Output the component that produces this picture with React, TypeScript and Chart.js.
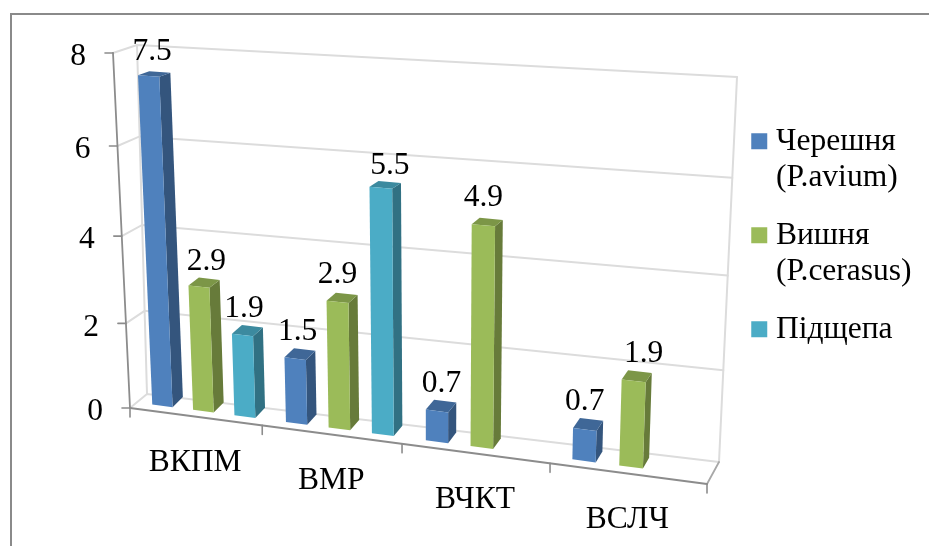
import React, { useEffect, useRef } from "react";
import { Chart, registerables } from "chart.js";

Chart.register(...registerables);

const categories = ["ВКПМ", "ВМР", "ВЧКТ", "ВСЛЧ"];
const seriesLabels = [["Черешня", "(P.avium)"], ["Вишня", "(P.cerasus)"], "Підщепа"];
const avium = [7.5, 1.5, 0.7, 0.7];
const cerasus = [2.9, 2.9, 4.9, 1.9];
const rootstock = [1.9, 5.5, null, null];

const frontColors = ["#4F81BD", "#9BBB59", "#4BACC6"];
const sideColors = ["#34557D", "#677B3A", "#317183"];
const topColors = ["#3F6797", "#7C9647", "#3C8A9F"];

const FONT_SIZE = 31.5;
const FONT = `${FONT_SIZE}px 'Liberation Serif'`;

// Hand placement of each value label relative to the top of its column
const labelNudge = [
  [[3.5, -24], [2.5, -27], [4.5, -27], [0, -27.5]],
  [[7.5, -25], [0, -27], [0, -27], [10, -27.5]],
  [[1.5, -26], [9, -22]],
];

type Pt = [number, number];

// Projective map of the unit square onto a quad (top-left, top-right, bottom-right, bottom-left).
function homography(q: Pt[]) {
  const [[x0, y0], [x1, y1], [x2, y2], [x3, y3]] = q;
  const sx = x0 - x1 + x2 - x3;
  const sy = y0 - y1 + y2 - y3;
  const dx1 = x1 - x2, dx2 = x3 - x2, dy1 = y1 - y2, dy2 = y3 - y2;
  const den = dx1 * dy2 - dx2 * dy1;
  const g = (sx * dy2 - dx2 * sy) / den;
  const h = (dx1 * sy - sx * dy1) / den;
  const a = x1 - x0 + g * x1, b = x3 - x0 + h * x3;
  const d = y1 - y0 + g * y1, e = y3 - y0 + h * y3;
  return (u: number, v: number): Pt => {
    const w = g * u + h * v + 1;
    return [(a * u + b * v + x0) / w, (d * u + e * v + y0) / w];
  };
}

const lerp = (p: Pt, q: Pt, t: number): Pt => [p[0] + (q[0] - p[0]) * t, p[1] + (q[1] - p[1]) * t];
const foreshorten = (t: number, k: number) => (t * k) / (1 + (k - 1) * t);

// Frame of the 3-D box
const wallTL: Pt = [137, 45], wallTR: Pt = [737, 77], wallBR: Pt = [719, 462], wallBL: Pt = [147, 394];
const edgeTop: Pt = [113, 53], edgeBottom: Pt = [130, 408], floorEnd: Pt = [707, 484];

// Planes holding the front and the rear faces of the columns
const frontPlane = homography([[121.6, 50.9], [724.5, 93.6], [708.4, 477.1], [137.6, 402.6]]);
const rearPlane = homography([[133, 47.4], [729.5, 90.5], [713.9, 466.1], [148.1, 392.6]]);

const V_K = 1.065;
const U_K = 0.892;

function polygon(ctx: CanvasRenderingContext2D, pts: Pt[], fill: string) {
  ctx.beginPath();
  pts.forEach((p, i) => (i ? ctx.lineTo(p[0], p[1]) : ctx.moveTo(p[0], p[1])));
  ctx.closePath();
  ctx.fillStyle = fill;
  ctx.fill();
}

function polyline(ctx: CanvasRenderingContext2D, pts: Pt[], color: string, width: number) {
  ctx.beginPath();
  pts.forEach((p, i) => (i ? ctx.lineTo(p[0], p[1]) : ctx.moveTo(p[0], p[1])));
  ctx.strokeStyle = color;
  ctx.lineWidth = width;
  ctx.stroke();
}

const perspective = {
  id: "perspective",
  afterLayout(chart: any) {
    chart.legend.left = 736.25;
    chart.legend.top = 103.5;
  },
  beforeDatasetsDraw(chart: any) {
    const { ctx, chartArea: area, scales } = chart;
    const toV = (val: number) => (scales.y.getPixelForValue(val) - area.top) / area.height;
    ctx.save();
    ctx.lineCap = "round";
    const grid = "#DCDCDC";
    const axis = "#8C8C8C";
    scales.y.ticks.forEach((tick: any) => {
      const t = foreshorten(toV(tick.value), V_K);
      polyline(ctx, [lerp(edgeTop, edgeBottom, t), lerp(wallTL, wallBL, t), lerp(wallTR, wallBR, t)], grid, 2);
    });
    polyline(ctx, [wallTL, wallBL], grid, 2);
    polyline(ctx, [wallTR, wallBR], grid, 2);
    polyline(ctx, [wallBR, floorEnd], "#A8A8A8", 1.8);
    polyline(ctx, [edgeTop, edgeBottom], axis, 1.8);
    polyline(ctx, [edgeBottom, floorEnd], axis, 1.8);
    scales.y.ticks.forEach((tick: any) => {
      const p = lerp(edgeTop, edgeBottom, foreshorten(toV(tick.value), V_K));
      polyline(ctx, [p, [p[0] - 8, p[1]]], axis, 1.6);
    });
    for (let i = 0; i <= categories.length; i++) {
      const u = (scales.x.getPixelForValue(i - 0.5) - area.left) / area.width;
      const p = lerp(edgeBottom, floorEnd, foreshorten(u, U_K));
      polyline(ctx, [p, [p[0], p[1] + 9]], axis, 1.6);
    }
    ctx.restore();
  },
  beforeDatasetDraw(chart: any, args: any) {
    const { ctx, chartArea: area } = chart;
    const i = args.index;
    const values = chart.data.datasets[i].data;
    const uv = (x: number, y: number): [number, number] => [(x - area.left) / area.width, (y - area.top) / area.height];
    args.meta.data.forEach((bar: any, n: number) => {
      if (values[n] == null) return;
      const { x, y, base, width } = bar.getProps(["x", "y", "base", "width"], true);
      const [uL, vT] = uv(x - width / 2, y);
      const [uR, vB] = uv(x + width / 2, base);
      const fTL = frontPlane(uL, vT), fTR = frontPlane(uR, vT), fBR = frontPlane(uR, vB), fBL = frontPlane(uL, vB);
      const rTL = rearPlane(uL, vT), rTR = rearPlane(uR, vT), rBR = rearPlane(uR, vB);
      polygon(ctx, [fTR, rTR, rBR, fBR], sideColors[i]);
      polygon(ctx, [fTL, rTL, rTR, fTR], topColors[i]);
      polygon(ctx, [fTL, fTR, fBR, fBL], frontColors[i]);
    });
    return false;
  },
  afterDatasetsDraw(chart: any) {
    const { ctx, chartArea: area, scales } = chart;
    const toV = (val: number) => (scales.y.getPixelForValue(val) - area.top) / area.height;
    ctx.save();
    ctx.font = FONT;
    ctx.fillStyle = "#000";
    ctx.textBaseline = "middle";

    // Value axis labels follow the slanted front edge
    ctx.textAlign = "right";
    scales.y.ticks.forEach((tick: any) => {
      const p = lerp(edgeTop, edgeBottom, foreshorten(toV(tick.value), V_K));
      ctx.fillText(String(tick.value), p[0] - 27, p[1] + 4);
    });

    // Category labels sit under the slanted floor edge
    ctx.textAlign = "center";
    categories.forEach((name, i) => {
      const u = (scales.x.getPixelForValue(i) - area.left) / area.width;
      const p = lerp(edgeBottom, floorEnd, foreshorten(u, U_K));
      ctx.fillText(name, p[0], p[1] + 46);
    });

    // Value labels above each column
    chart.data.datasets.forEach((ds: any, d: number) => {
      chart.getDatasetMeta(d).data.forEach((bar: any, i: number) => {
        if (ds.data[i] == null) return;
        const { x, y } = bar.getProps(["x", "y"], true);
        const p = frontPlane((x - area.left) / area.width, (y - area.top) / area.height);
        const [dx, dy] = labelNudge[d][i];
        ctx.fillText(ds.data[i].toFixed(1), p[0] + dx, p[1] + dy);
      });
    });
    ctx.restore();
  },
};

export default function App() {
  const ref = useRef<HTMLCanvasElement>(null);
  useEffect(() => {
    const series = [avium, cerasus, rootstock];
    const chart = new Chart(ref.current!, {
      type: "bar",
      data: {
        labels: categories,
        datasets: series.map((data, i) => ({
          label: seriesLabels[i] as any,
          data,
          backgroundColor: frontColors[i],
          borderWidth: 0,
          categoryPercentage: 0.93,
          barPercentage: 0.5,
        })),
      },
      options: {
        responsive: false,
        animation: false,
        layout: { padding: { left: 100, top: 40, bottom: 60 } },
        scales: {
          x: { display: false },
          y: { display: false, min: 0, max: 8, ticks: { stepSize: 2 } },
        },
        plugins: {
          tooltip: { enabled: false },
          legend: {
            position: "right",
            align: "start",
            labels: {
              usePointStyle: true,
              pointStyle: "rect",
              boxWidth: 2,
              boxHeight: 16,
              padding: 22,
              color: "#000",
              font: { family: "'Liberation Serif'", size: FONT_SIZE, lineHeight: 36 / FONT_SIZE },
            },
          },
        },
      },
      plugins: [perspective as any],
    });
    return () => chart.destroy();
  }, []);

  return (
    <div style={{ position: "fixed", inset: 0, background: "#fff", overflow: "hidden" }}>
      <canvas ref={ref} width={929} height={546} style={{ position: "absolute", left: 0, top: 0 }} />
      <div
        style={{
          position: "absolute",
          left: 10,
          top: 13,
          right: -4,
          bottom: -4,
          borderLeft: "2px solid #8A8A8A",
          borderTop: "2px solid #8A8A8A",
          pointerEvents: "none",
        }}
      />
    </div>
  );
}
